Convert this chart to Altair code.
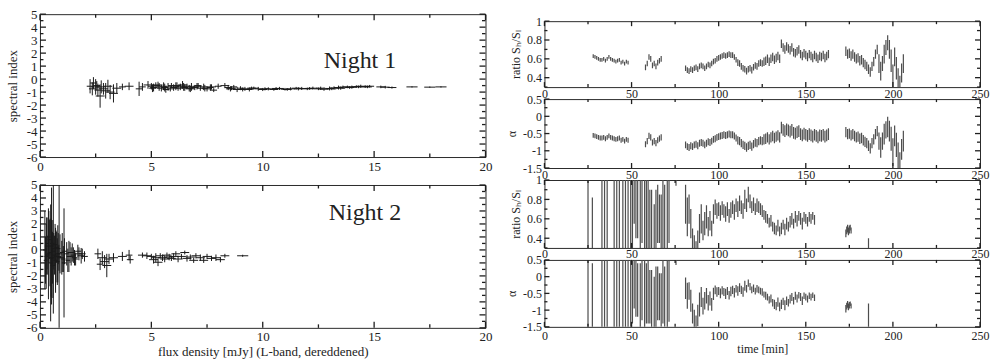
import altair as alt
import pandas as pd

# ---------------- Night 1 : spectral index vs flux density ----------------
n1_flux = [2.25,2.35,2.4,2.5,2.55,2.6,2.7,2.75,2.85,2.95,
           3.05,3.15,3.3,3.45,3.7,4.0,4.45,4.6,4.85,5.0,
           5.1,5.2,5.35,5.45,5.55,5.65,5.75,5.9,6.0,6.1,
           6.2,6.3,6.4,6.5,6.6,6.7,6.8,6.95,7.05,7.2,
           7.35,7.5,7.65,7.8,8.3,8.45,8.55,8.7,8.85,9.0,
           9.2,9.4,9.6,9.8,10.0,10.25,10.5,10.75,11.0,11.25,
           11.5,11.75,12.0,12.25,12.5,12.75,13.0,13.2,13.4,13.6,
           13.8,14.0,14.2,14.4,14.6,14.8,15.3,15.5,15.8,16.7,
           17.5,18.0,
           5.05,5.3,5.6,5.85,6.15,6.45,6.75,7.1,7.4,7.7,
           8.0,8.6,9.1,9.5,10.1,10.6,11.1,11.6,12.1,12.6,
           13.1,13.5,13.9,14.3,14.7]
n1_index = [-0.55,-0.75,-0.3,-0.6,-0.5,-0.85,-1.3,-0.6,-0.75,-0.9,
            -0.55,-1.0,-1.1,-0.7,-0.6,-0.55,-0.75,-0.6,-0.45,-0.55,
            -0.65,-0.5,-0.6,-0.7,-0.55,-0.8,-0.6,-0.5,-0.65,-0.55,
            -0.7,-0.6,-0.45,-0.65,-0.55,-0.7,-0.6,-0.65,-0.55,-0.7,
            -0.6,-0.75,-0.65,-0.85,-0.5,-0.65,-0.75,-0.6,-0.8,-0.7,
            -0.75,-0.8,-0.7,-0.75,-0.8,-0.75,-0.8,-0.72,-0.78,-0.75,
            -0.7,-0.72,-0.75,-0.7,-0.75,-0.78,-0.72,-0.68,-0.65,-0.62,
            -0.6,-0.62,-0.58,-0.55,-0.58,-0.55,-0.6,-0.62,-0.65,-0.6,
            -0.62,-0.6,
            -0.7,-0.45,-0.65,-0.75,-0.5,-0.6,-0.75,-0.5,-0.7,-0.6,
            -0.55,-0.7,-0.8,-0.7,-0.75,-0.72,-0.8,-0.75,-0.72,-0.7,
            -0.75,-0.7,-0.65,-0.6,-0.6]
n1_flux_err = [0.15,0.15,0.15,0.2,0.15,0.15,0.2,0.2,0.2,0.2,
               0.2,0.2,0.2,0.2,0.15,0.2,0.15,0.15,0.2,0.15,
               0.15,0.2,0.15,0.2,0.15,0.15,0.2,0.15,0.15,0.15,
               0.2,0.15,0.2,0.15,0.15,0.2,0.15,0.15,0.2,0.15,
               0.15,0.2,0.15,0.15,0.2,0.15,0.2,0.15,0.2,0.15,
               0.2,0.15,0.2,0.15,0.2,0.15,0.2,0.2,0.2,0.2,
               0.2,0.2,0.2,0.2,0.2,0.2,0.2,0.2,0.2,0.2,
               0.2,0.2,0.2,0.2,0.2,0.2,0.2,0.2,0.2,0.25,
               0.25,0.25,
               0.15,0.2,0.15,0.15,0.2,0.15,0.2,0.15,0.15,0.2,
               0.15,0.2,0.15,0.2,0.2,0.2,0.2,0.2,0.2,0.2,
               0.2,0.2,0.2,0.2,0.2]
n1_index_err = [0.55,0.5,0.45,0.6,0.35,0.5,0.9,0.5,0.45,0.6,
                0.5,0.55,0.7,0.4,0.25,0.3,0.55,0.3,0.3,0.25,
                0.3,0.25,0.3,0.25,0.3,0.25,0.3,0.2,0.25,0.3,
                0.2,0.25,0.3,0.25,0.2,0.25,0.3,0.2,0.25,0.2,
                0.25,0.2,0.25,0.15,0.2,0.2,0.2,0.15,0.2,0.15,
                0.15,0.15,0.12,0.15,0.12,0.12,0.1,0.12,0.1,0.12,
                0.1,0.12,0.1,0.12,0.1,0.12,0.15,0.12,0.15,0.12,
                0.1,0.12,0.1,0.12,0.1,0.1,0.1,0.1,0.08,0.05,
                0.05,0.05,
                0.3,0.25,0.3,0.2,0.25,0.3,0.25,0.2,0.25,0.2,
                0.2,0.15,0.15,0.12,0.12,0.1,0.1,0.12,0.1,0.12,
                0.1,0.12,0.1,0.1,0.1]

# ---------------- Night 2 : spectral index vs flux density ----------------
n2_flux = [0.22,0.28,0.32,0.38,0.42,0.48,0.52,0.56,0.6,0.65,
           0.7,0.75,0.8,0.85,0.86,1.0,1.05,1.08,1.2,1.3,
           1.45,1.55,1.75,1.85,2.6,2.7,2.8,2.9,3.0,3.1,
           3.3,3.7,4.0,4.05,4.6,4.8,5.0,5.1,5.2,5.3,
           5.4,5.5,5.6,5.7,5.8,5.9,6.0,6.1,6.2,6.35,
           6.5,6.6,6.75,6.9,7.0,7.2,7.35,7.5,7.7,7.9,
           8.1,8.3,9.1,
           0.25,0.3,0.35,0.4,0.45,0.5,0.55,0.58,0.62,0.68,
           0.72,0.78,0.82,0.9,0.98,1.1,1.25,1.35,1.4,1.5,
           1.6,1.7,1.9,2.0]
n2_index = [0.0,-0.5,0.5,-0.3,0.8,-1.0,0.3,-0.6,0.1,-0.4,
            -0.8,0.2,-0.3,-0.6,-0.5,-0.2,-0.7,-1.0,-0.3,-0.5,
            -0.2,-0.6,-0.3,-0.45,-0.3,-1.1,-0.6,-0.9,-1.2,-0.7,
            -0.6,-0.5,-0.4,-0.75,-0.4,-0.45,-0.5,-0.75,-0.6,-0.95,
            -0.45,-0.6,-0.7,-0.4,-0.55,-0.65,-0.5,-0.3,-0.7,-0.5,
            -0.2,-0.65,-0.55,-0.8,-0.45,-0.6,-0.8,-0.5,-0.65,-0.6,
            -0.75,-0.45,-0.45,
            -0.8,0.3,-0.4,1.0,-0.2,-0.6,0.5,-1.2,-0.1,0.4,
            -0.5,-0.9,0.1,-0.3,-0.6,-0.1,-0.8,-0.2,-0.5,-0.4,
            -0.7,-0.1,-0.3,-0.5]
n2_flux_err = [0.08,0.08,0.08,0.08,0.08,0.1,0.1,0.1,0.1,0.1,
               0.1,0.1,0.1,0.1,0.1,0.1,0.1,0.1,0.1,0.1,
               0.12,0.12,0.15,0.15,0.15,0.15,0.2,0.2,0.2,0.2,
               0.2,0.2,0.15,0.15,0.2,0.2,0.2,0.2,0.2,0.2,
               0.2,0.2,0.2,0.2,0.2,0.2,0.2,0.2,0.2,0.2,
               0.2,0.2,0.2,0.2,0.2,0.2,0.2,0.2,0.2,0.2,
               0.2,0.2,0.25,
               0.08,0.08,0.08,0.08,0.1,0.1,0.1,0.1,0.1,0.1,
               0.1,0.1,0.1,0.1,0.1,0.1,0.1,0.12,0.12,0.12,
               0.12,0.15,0.15,0.15]
n2_index_err = [3.0,2.5,2.0,3.5,1.5,4.5,4.5,2.0,5.0,1.5,
                2.5,1.2,2.2,1.0,6.0,1.5,1.0,4.2,0.9,1.2,
                0.7,0.6,0.5,0.6,0.4,0.45,0.5,0.5,0.9,0.4,
                0.35,0.35,0.4,0.3,0.2,0.25,0.2,0.3,0.35,0.3,
                0.2,0.25,0.25,0.2,0.25,0.2,0.25,0.2,0.25,0.2,
                0.15,0.25,0.2,0.2,0.2,0.25,0.2,0.2,0.2,0.25,
                0.2,0.15,0.08,
                1.8,2.2,1.5,2.0,2.6,3.0,1.8,2.5,1.4,1.6,
                2.0,1.8,1.2,1.5,1.3,1.0,0.9,0.8,0.7,0.6,
                0.5,0.5,0.4,0.4]

# ---------------- Night 1 : time series (ratio and alpha) ----------------
t1_time = [28,29,30,31,32,33,34,35,36,37,38,39,40,41,42,43,44,45,46,47,48,
           58,59,60,61,62,63,64,65,66,67,
           81,82,83,84,85,86,87,88,89,90,91,92,93,94,95,96,97,98,99,100,
           101,102,103,104,105,106,107,108,109,110,111,112,113,114,115,116,117,118,119,120,
           121,122,123,124,125,126,127,128,129,130,131,132,133,134,135,
           136,137,138,139,140,141,142,143,144,145,146,147,148,149,150,
           151,152,153,154,155,156,157,158,159,160,161,162,163,
           173,174,175,176,177,178,179,180,181,182,183,184,185,186,187,188,189,190,191,
           192,193,194,195,196,197,198,199,200,201,202,203,204,205,206]
t1_ratio = [0.63,0.62,0.61,0.6,0.59,0.59,0.6,0.58,0.6,0.62,0.6,0.59,0.58,0.57,0.58,0.59,0.56,0.57,0.55,0.57,0.56,
            0.51,0.55,0.62,0.6,0.53,0.55,0.52,0.56,0.58,0.6,
            0.5,0.48,0.47,0.49,0.48,0.5,0.51,0.49,0.52,0.53,0.52,0.5,0.52,0.54,0.53,0.55,0.57,0.58,0.6,0.61,
            0.62,0.63,0.64,0.63,0.64,0.65,0.64,0.64,0.62,0.59,0.56,0.55,0.52,0.5,0.49,0.47,0.49,0.5,0.48,0.51,
            0.53,0.52,0.55,0.56,0.55,0.57,0.58,0.6,0.57,0.6,0.62,0.59,0.61,0.63,0.6,
            0.76,0.72,0.7,0.73,0.71,0.69,0.72,0.67,0.66,0.68,0.7,0.65,0.63,0.66,0.64,
            0.62,0.65,0.63,0.61,0.64,0.62,0.6,0.63,0.62,0.64,0.61,0.63,0.65,
            0.68,0.65,0.66,0.63,0.65,0.62,0.6,0.61,0.58,0.59,0.56,0.54,0.52,0.49,0.46,0.52,0.57,0.65,0.7,
            0.55,0.47,0.55,0.65,0.72,0.77,0.7,0.58,0.42,0.62,0.5,0.38,0.3,0.45,0.55]
t1_ratio_err = [0.02,0.02,0.02,0.02,0.02,0.02,0.02,0.02,0.02,0.02,0.02,0.02,0.02,0.02,0.02,0.02,0.02,0.02,0.02,0.02,0.02,
                0.03,0.03,0.03,0.03,0.03,0.03,0.03,0.03,0.03,0.03,
                0.03,0.03,0.03,0.03,0.03,0.03,0.03,0.03,0.03,0.03,0.03,0.03,0.03,0.03,0.03,0.03,0.03,0.03,0.03,0.03,
                0.03,0.03,0.03,0.03,0.03,0.03,0.03,0.03,0.03,0.03,0.035,0.035,0.035,0.035,0.035,0.035,0.035,0.035,0.035,0.035,
                0.035,0.035,0.035,0.035,0.035,0.045,0.045,0.045,0.045,0.045,0.045,0.045,0.045,0.045,0.045,
                0.045,0.045,0.045,0.045,0.045,0.045,0.045,0.045,0.045,0.045,0.045,0.045,0.045,0.045,0.045,
                0.045,0.045,0.045,0.045,0.045,0.045,0.045,0.045,0.045,0.045,0.045,0.045,0.045,
                0.05,0.05,0.05,0.05,0.05,0.05,0.05,0.05,0.05,0.05,0.05,0.05,0.05,0.05,0.05,0.05,0.05,0.05,0.05,
                0.1,0.1,0.08,0.1,0.08,0.08,0.1,0.12,0.12,0.1,0.12,0.12,0.12,0.1,0.1]
t1_alpha = [-0.555,-0.57,-0.59,-0.61,-0.63,-0.63,-0.61,-0.65,-0.61,-0.57,-0.61,-0.63,-0.65,-0.67,-0.65,-0.63,-0.695,-0.67,-0.72,-0.67,-0.695,
            -0.81,-0.72,-0.57,-0.61,-0.76,-0.72,-0.78,-0.695,-0.65,-0.61,
            -0.83,-0.88,-0.905,-0.855,-0.88,-0.83,-0.81,-0.855,-0.78,-0.76,-0.78,-0.83,-0.78,-0.74,-0.76,-0.72,-0.67,-0.65,-0.61,-0.59,
            -0.57,-0.555,-0.535,-0.555,-0.535,-0.515,-0.535,-0.535,-0.57,-0.63,-0.695,-0.72,-0.78,-0.83,-0.855,-0.905,-0.855,-0.83,-0.88,-0.81,
            -0.76,-0.78,-0.72,-0.695,-0.72,-0.67,-0.65,-0.61,-0.67,-0.61,-0.57,-0.63,-0.59,-0.555,-0.61,
            -0.33,-0.395,-0.43,-0.38,-0.41,-0.445,-0.395,-0.48,-0.5,-0.46,-0.43,-0.515,-0.555,-0.5,-0.535,
            -0.57,-0.515,-0.555,-0.59,-0.535,-0.57,-0.61,-0.555,-0.57,-0.535,-0.59,-0.555,-0.515,
            -0.46,-0.515,-0.5,-0.555,-0.515,-0.57,-0.61,-0.59,-0.65,-0.63,-0.695,-0.74,-0.78,-0.855,-0.93,-0.78,-0.67,-0.515,-0.43,
            -0.72,-0.905,-0.72,-0.515,-0.395,-0.31,-0.43,-0.65,-1.04,-0.57,-0.83,-1.16,-1.44,-0.96,-0.72]
t1_alpha_err = [0.07,0.07,0.07,0.07,0.07,0.07,0.07,0.07,0.07,0.07,0.07,0.07,0.07,0.07,0.07,0.07,0.07,0.07,0.07,0.07,0.07,
                0.09,0.09,0.09,0.09,0.09,0.09,0.09,0.09,0.09,0.09,
                0.1,0.1,0.1,0.1,0.1,0.1,0.1,0.1,0.1,0.1,0.1,0.1,0.1,0.1,0.1,0.1,0.1,0.1,0.1,0.1,
                0.1,0.1,0.1,0.1,0.1,0.1,0.1,0.1,0.1,0.1,0.12,0.12,0.12,0.12,0.12,0.12,0.12,0.12,0.12,0.12,
                0.12,0.12,0.12,0.12,0.12,0.15,0.15,0.15,0.15,0.15,0.15,0.15,0.15,0.15,0.15,
                0.17,0.17,0.17,0.17,0.17,0.17,0.17,0.17,0.17,0.17,0.17,0.17,0.17,0.17,0.17,
                0.17,0.17,0.17,0.17,0.17,0.17,0.17,0.17,0.17,0.17,0.17,0.17,0.17,
                0.15,0.15,0.15,0.15,0.15,0.15,0.15,0.15,0.15,0.15,0.15,0.15,0.15,0.15,0.15,0.15,0.15,0.15,0.15,
                0.25,0.3,0.25,0.3,0.25,0.3,0.3,0.35,0.4,0.3,0.35,0.4,0.4,0.3,0.3]

# ---------------- Night 2 : time series (ratio and alpha) ----------------
t2_time = [25,27.5,33,34.5,36,40,41.5,43,45,46.5,48,49.5,50.5,51.5,52.5,53.5,55,56,57.5,58.5,
           59.5,60.5,61.5,63,64,65,66,67,68,69,70.5,71.5,75.5,
           81,82,83,84,85,86,87,88,89,90,91,92,93,94,95,96,97,98,99,100,
           101,102,103,104,105,106,107,108,109,110,111,112,113,114,115,116,117,118,119,120,
           121,122,123,124,125,126,127,128,129,130,131,132,133,134,135,136,137,138,139,140,
           141,142,143,144,145,146,147,148,149,150,151,152,153,154,155,
           173,173.5,174,174.5,175,175.5,176,186]
t2_ratio = [0.6,0.52,0.6,0.55,0.62,0.6,0.5,0.65,0.58,0.6,0.55,0.7,0.8,0.85,0.75,0.7,0.6,0.75,0.55,0.65,
            0.7,0.6,0.55,0.45,0.5,0.65,0.6,0.55,0.7,0.6,0.65,0.75,1.02,
            0.75,0.62,0.7,0.55,0.4,0.35,0.3,0.38,0.5,0.6,0.48,0.55,0.62,0.52,0.58,0.5,0.65,0.72,0.68,0.7,
            0.66,0.71,0.68,0.65,0.7,0.63,0.69,0.72,0.67,0.74,0.7,0.76,0.72,0.68,0.8,0.74,0.85,0.78,0.72,0.75,
            0.7,0.74,0.72,0.7,0.68,0.64,0.62,0.6,0.56,0.58,0.52,0.5,0.48,0.53,0.47,0.5,0.54,0.49,0.55,0.52,
            0.57,0.6,0.55,0.62,0.58,0.63,0.6,0.55,0.62,0.6,0.57,0.62,0.6,0.63,0.59,
            0.45,0.48,0.5,0.47,0.49,0.51,0.48,0.3]
t2_ratio_err = [0.4,0.3,0.6,0.7,0.6,0.5,0.7,0.6,0.5,0.7,0.5,0.6,0.5,0.3,0.35,0.3,0.4,0.4,0.5,0.35,
                0.4,0.3,0.35,0.3,0.4,0.3,0.25,0.3,0.4,0.35,0.45,0.4,0.08,
                0.2,0.2,0.15,0.15,0.1,0.08,0.07,0.1,0.15,0.15,0.1,0.12,0.12,0.1,0.1,0.08,0.1,0.08,0.08,0.07,
                0.08,0.07,0.07,0.08,0.07,0.07,0.08,0.07,0.08,0.07,0.08,0.08,0.07,0.08,0.1,0.07,0.08,0.07,0.06,0.07,
                0.06,0.07,0.06,0.06,0.06,0.05,0.06,0.05,0.05,0.06,0.05,0.06,0.05,0.06,0.05,0.06,0.05,0.06,0.06,0.05,
                0.06,0.06,0.05,0.06,0.06,0.05,0.06,0.06,0.05,0.05,0.05,0.05,0.05,0.04,0.05,
                0.04,0.04,0.04,0.04,0.04,0.03,0.03,0.1]
t2_alpha = [-0.5,-0.7,-0.5,-0.6,-0.4,-0.5,-0.7,-0.4,-0.6,-0.5,-0.7,-0.3,-0.2,-0.15,-0.3,-0.4,-0.6,-0.3,-0.7,-0.5,
            -0.4,-0.6,-0.7,-0.9,-0.8,-0.5,-0.6,-0.7,-0.4,-0.6,-0.5,-0.35,0.45,
            -0.345,-0.57,-0.43,-0.72,-1.1,-1.26,-1.44,-1.16,-0.83,-0.61,-0.88,-0.72,-0.57,-0.78,-0.65,-0.83,-0.515,-0.395,-0.46,-0.43,
            -0.5,-0.41,-0.46,-0.515,-0.43,-0.555,-0.445,-0.395,-0.48,-0.36,-0.43,-0.33,-0.395,-0.46,-0.27,-0.36,-0.195,-0.3,-0.395,-0.345,
            -0.43,-0.36,-0.395,-0.43,-0.46,-0.535,-0.57,-0.61,-0.695,-0.65,-0.78,-0.83,-0.88,-0.76,-0.905,-0.83,-0.74,-0.855,-0.72,-0.78,
            -0.67,-0.61,-0.72,-0.57,-0.65,-0.555,-0.61,-0.72,-0.57,-0.61,-0.67,-0.57,-0.61,-0.555,-0.63,
            -0.96,-0.88,-0.83,-0.905,-0.855,-0.81,-0.88,-1.25]
t2_alpha_err = [1.4,1.1,1.5,1.6,1.5,1.2,1.6,1.4,1.2,1.6,1.3,1.4,1.2,0.8,0.9,0.8,1.0,1.0,1.3,0.9,
                1.0,0.8,0.9,0.9,1.1,0.8,0.7,0.8,1.0,0.9,1.2,1.0,0.1,
                0.32,0.39,0.26,0.33,0.3,0.27,0.28,0.32,0.36,0.3,0.25,0.26,0.23,0.23,0.21,0.19,0.18,0.13,0.14,0.12,
                0.145,0.12,0.12,0.15,0.12,0.13,0.14,0.12,0.14,0.11,0.14,0.13,0.12,0.14,0.15,0.11,0.11,0.11,0.1,0.11,
                0.1,0.11,0.1,0.1,0.11,0.09,0.12,0.1,0.11,0.12,0.115,0.14,0.125,0.14,0.13,0.14,0.11,0.15,0.13,0.115,
                0.13,0.12,0.11,0.12,0.12,0.1,0.12,0.13,0.1,0.1,0.105,0.1,0.1,0.08,0.1,
                0.11,0.1,0.1,0.1,0.1,0.07,0.075,0.45]

# ---------------- axes: domains, ticks, texts ----------------
flux_domain = [0, 20]
index_domain = [-6, 5]
time_domain = [0, 250]
ratio_domain = [0.3, 1.0]
alpha_domain = [-1.5, 0.5]
flux_major = [0, 5, 10, 15, 20]
flux_minor = [2.5, 7.5, 12.5, 17.5]
index_major = [-6, -5, -4, -3, -2, -1, 0, 1, 2, 3, 4, 5]
index_minor = [-5.5, -4.5, -3.5, -2.5, -1.5, -0.5, 0.5, 1.5, 2.5, 3.5, 4.5]
time_major = [0, 50, 100, 150, 200, 250]
time_minor = [25, 75, 125, 175, 225]
ratio_major = [0.4, 0.6, 0.8, 1.0]
ratio_minor = [0.3, 0.5, 0.7, 0.9]
alpha_major = [-1.5, -1, -0.5, 0, 0.5]
alpha_minor = [-1.25, -0.75, -0.25, 0.25]
night_labels = ["Night 1", "Night 2"]
flux_title = "flux density [mJy] (L-band, dereddened)"
index_title = "spectral index"
time_title = "time [min]"
ratio_title = "ratio S\u2095/S\u2097"
alpha_title = "\u03b1"

FONT = "Liberation Serif"
INK = "#2b2b2b"
TICK_INK = "#1f1f1f"
LABEL_EXPR = "'' + datum.value"


def scales(xdom, ydom):
    return (alt.Scale(domain=xdom, nice=False, zero=False),
            alt.Scale(domain=ydom, nice=False, zero=False))


def label_layer(xdom, ydom, xmaj, ymaj, lab_size, xpad, ytitle, ytpad, title_size, xtitle=None):
    xs, ys = scales(xdom, ydom)
    common = dict(ticks=False, domain=False, grid=False,
                  labelFont=FONT, labelFontSize=lab_size, labelColor="#222",
                  labelFlush=False, labelOverlap=False, labelExpr=LABEL_EXPR,
                  titleFont=FONT, titleFontSize=title_size,
                  titleFontWeight="normal", titleColor="#222")
    xa = alt.Axis(orient="bottom", values=xmaj, labelPadding=xpad,
                  title=xtitle, titlePadding=2, **common)
    ya = alt.Axis(orient="left", values=ymaj, labelPadding=3,
                  title=ytitle, titlePadding=ytpad, **common)
    src = pd.DataFrame({"u": [xdom[0]], "v": [ydom[0]]})
    return alt.Chart(src).mark_point(opacity=0).encode(
        x=alt.X("u:Q", scale=xs, axis=xa), y=alt.Y("v:Q", scale=ys, axis=ya))


def tick_layers(xdom, ydom, xmaj, xmin, ymaj, ymin, tmaj, tmin, w, h):
    xs, ys = scales(xdom, ydom)
    out = []
    for vals, ts in ((xmaj, tmaj), (xmin, tmin)):
        base = alt.Chart(pd.DataFrame({"p": vals})).mark_rule(color=TICK_INK, strokeWidth=1.3)
        out.append(base.encode(x=alt.X("p:Q", scale=xs, axis=None),
                               y=alt.value(h), y2=alt.value(h - ts)))
        out.append(base.encode(x=alt.X("p:Q", scale=xs, axis=None),
                               y=alt.value(0), y2=alt.value(ts)))
    for vals, ts in ((ymaj, tmaj), (ymin, tmin)):
        base = alt.Chart(pd.DataFrame({"p": vals})).mark_rule(color=TICK_INK, strokeWidth=1.3)
        out.append(base.encode(y=alt.Y("p:Q", scale=ys, axis=None),
                               x=alt.value(0), x2=alt.value(ts)))
        out.append(base.encode(y=alt.Y("p:Q", scale=ys, axis=None),
                               x=alt.value(w), x2=alt.value(w - ts)))
    return out


def vbars(df, xf, yf, ef, xdom, ydom, color, sw):
    xs, ys = scales(xdom, ydom)
    return alt.Chart(df).transform_calculate(
        lo=f"datum.{yf} - datum.{ef}", hi=f"datum.{yf} + datum.{ef}"
    ).mark_rule(clip=True, color=color, strokeWidth=sw).encode(
        x=alt.X(f"{xf}:Q", scale=xs, axis=None),
        y=alt.Y("lo:Q", scale=ys, axis=None), y2="hi:Q")


def hbars(df, xf, yf, ef, xdom, ydom, color, sw):
    xs, ys = scales(xdom, ydom)
    return alt.Chart(df).transform_calculate(
        lo=f"datum.{xf} - datum.{ef}", hi=f"datum.{xf} + datum.{ef}"
    ).mark_rule(clip=True, color=color, strokeWidth=sw).encode(
        x=alt.X("lo:Q", scale=xs, axis=None), x2="hi:Q",
        y=alt.Y(f"{yf}:Q", scale=ys, axis=None))


def flux_panel(flux, idx, ferr, ierr, label, lx, ly, xtitle):
    W, H = 446, 143
    df = pd.DataFrame({"f": flux, "s": idx, "fe": ferr, "se": ierr})
    layers = [vbars(df, "f", "s", "se", flux_domain, index_domain, "#1a1a1a", 1),
              hbars(df, "f", "s", "fe", flux_domain, index_domain, "#1a1a1a", 1),
              alt.Chart(pd.DataFrame({"n": [label]})).mark_text(
                  font=FONT, fontSize=24, align="left", baseline="alphabetic",
                  color="#222").encode(x=alt.value(lx), y=alt.value(ly), text="n:N")]
    layers += tick_layers(flux_domain, index_domain, flux_major, flux_minor,
                          index_major, index_minor, 6, 3.5, W, H)
    layers.append(label_layer(flux_domain, index_domain, flux_major, index_major,
                              13, 3, index_title, 7, 13, xtitle))
    return alt.layer(*layers).resolve_axis(x="independent", y="independent").properties(
        width=W, height=H)


def time_panel(t, v, e, ydom, ymaj, ymin, ytitle, h, xpad, xtitle=None):
    W = 436
    df = pd.DataFrame({"t": t, "v": v, "e": e})
    layers = [vbars(df, "t", "v", "e", time_domain, ydom, "#4d4d4d", 1.2)]
    layers += tick_layers(time_domain, ydom, time_major, time_minor,
                          ymaj, ymin, 5, 3, W, h)
    layers.append(label_layer(time_domain, ydom, time_major, ymaj,
                              12, xpad, ytitle, 4, 12, xtitle))
    return alt.layer(*layers).resolve_axis(x="independent", y="independent").properties(
        width=W, height=h)


L1 = flux_panel(n1_flux, n1_index, n1_flux_err, n1_index_err, night_labels[0], 284, 54, None)
L2 = flux_panel(n2_flux, n2_index, n2_flux_err, n2_index_err, night_labels[1], 289, 35, flux_title)

R1 = time_panel(t1_time, t1_ratio, t1_ratio_err, ratio_domain, ratio_major, ratio_minor, ratio_title, 66, 1)
R2 = time_panel(t1_time, t1_alpha, t1_alpha_err, alpha_domain, alpha_major, alpha_minor, alpha_title, 69, 1)
R3 = time_panel(t2_time, t2_ratio, t2_ratio_err, ratio_domain, ratio_major, ratio_minor, ratio_title, 68, 1)
R4 = time_panel(t2_time, t2_alpha, t2_alpha_err, alpha_domain, alpha_major, alpha_minor, alpha_title, 67, 4, time_title)

spacer = alt.Chart(pd.DataFrame({"u": [0]})).mark_point(opacity=0).properties(
    width=436, height=7, view=alt.ViewBackground(strokeOpacity=0))

left = alt.vconcat(L1, L2, spacing=28, bounds="flush")
right = alt.vconcat(spacer, alt.vconcat(R1, R2, R3, R4, spacing=12, bounds="flush"),
                    spacing=0, bounds="flush")

chart = alt.hconcat(left, right, spacing=12).properties(
    padding={"left": 5, "top": 7, "right": 2, "bottom": 2}
).configure_view(stroke=INK, strokeWidth=1)

chart.save("out.html", embed_options={"renderer": "svg", "actions": False})
